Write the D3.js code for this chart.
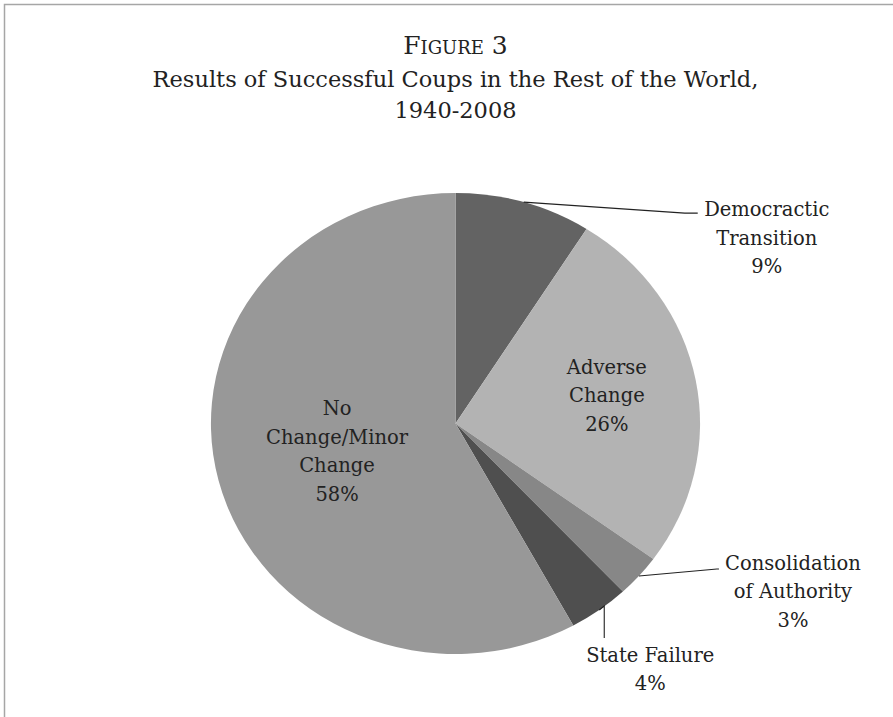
<!DOCTYPE html>
<html><head><meta charset="utf-8">
<script src="https://cdn.jsdelivr.net/npm/d3@7"></script>
<style>body{margin:0;background:#fff} svg{display:block}</style>
</head><body><svg id="c" width="893" height="717"></svg>
<script>
// ---- data ----
const categories = ["Democractic Transition","Adverse Change","Consolidation of Authority","State Failure","No Change/Minor Change"];
const values = [9, 26, 3, 4, 58];
const labelNameLines = [["Democractic","Transition"],["Adverse","Change"],["Consolidation","of Authority"],["State Failure"],["No","Change/Minor","Change"]];
const colors = ["#636363","#b3b3b3","#878787","#4f4f4f","#989898"];
const titleLines = ["Figure 3","Results of Successful Coups in the Rest of the World,","1940-2008"];

// ---- layout ----
const W = 893, H = 717;
const cx = 455.5, cy = 423.5, R = 230.5, sx = 1.061;
const font = "'DejaVu Serif', 'Liberation Serif', serif";
const lineH = 28.5;
const labelLayout = [
  {type:"out", leader:[[161,11],[174,11]], text:[243,14]},
  {type:"in", k:0.63},
  {type:"out", leader:[[78,-7],[80,-7]], text:[154,-6]},
  {type:"out", leader:[[5,-4],[5,28]], text:[51,52]},
  {type:"in", k:0.50}
];

const svg = d3.select("#c");
svg.append("rect").attr("x",4.5).attr("y",4.5).attr("width",1000).attr("height",1000)
  .attr("fill","none").attr("stroke","#a6a6a6").attr("stroke-width",1.5);

// title
const title = svg.append("g").attr("font-family",font).attr("fill","#222").attr("text-anchor","middle");
const titleY = [54, 87, 118];
const titleSize = [25, 22.5, 22.5];
titleLines.forEach((t,i)=>{
  const tx = title.append("text").attr("x",455.5).attr("y",titleY[i]).attr("font-size",titleSize[i]).text(t);
  if(i===0) tx.style("font-variant","small-caps");
});

const pie = d3.pie().sort(null).value(d=>d)(values);
const arc = d3.arc().innerRadius(0).outerRadius(R);
const g = svg.append("g").attr("transform",`translate(${cx},${cy}) scale(${sx},1)`);
g.selectAll("path").data(pie).join("path").attr("d",arc).attr("fill",(d,i)=>colors[i]);

function edgePoint(d, rr){
  const a = (d.startAngle + d.endAngle)/2;
  return [cx + sx*rr*Math.sin(a), cy - rr*Math.cos(a)];
}

const lab = svg.append("g").attr("font-family",font).attr("font-size",19.5).attr("fill","#222").attr("text-anchor","middle");
pie.forEach((d,i)=>{
  const L = labelLayout[i];
  const lines = labelNameLines[i].concat([values[i]+"%"]);
  let tx, ty;
  if(L.type==="in"){
    const p = edgePoint(d, R*L.k);
    tx = p[0]; ty = p[1] - (lines.length-1)*lineH/2 + 6;
  } else {
    const p = edgePoint(d, R);
    const pts = [p].concat(L.leader.map(o=>[p[0]+o[0], p[1]+o[1]]));
    svg.append("path").attr("d", d3.line()(pts)).attr("fill","none").attr("stroke","#222").attr("stroke-width",1.1);
    tx = p[0]+L.text[0]; ty = p[1]+L.text[1];
  }
  lines.forEach((s,j)=>{
    lab.append("text").attr("x",tx).attr("y",ty + j*lineH).text(s);
  });
});
</script>
</body></html>
